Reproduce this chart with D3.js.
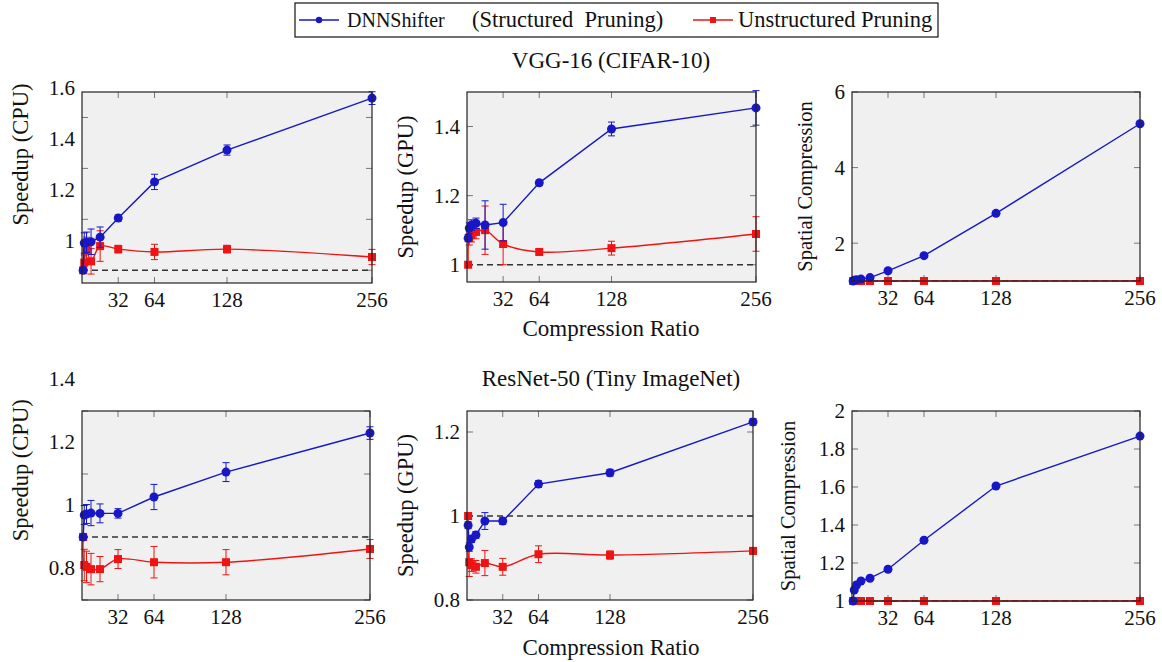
<!DOCTYPE html>
<html>
<head>
<meta charset="utf-8">
<script src="https://cdn.jsdelivr.net/npm/d3@7"></script>
<style>
  body { margin: 0; background: #fff; }
  svg text { font-family: "Liberation Serif", "Times New Roman", serif; fill: #111; }
</style>
</head>
<body>
<div id="chart"></div>
<script>
// Compression ratios (x axis)
var ratios = [1, 2, 4, 8, 16, 32, 64, 128, 256];
var xTicks = [32, 64, 128, 256];

// VGG-16 (CIFAR-10)
var vggCpuShifter = [1.0, 1.107, 1.11, 1.112, 1.13, 1.205, 1.347, 1.472, 1.676];
var vggCpuShifterErr = [0.005, 0.04, 0.04, 0.05, 0.04, 0.012, 0.03, 0.02, 0.025];
var vggCpuUnstr = [1.0, 1.03, 1.08, 1.035, 1.095, 1.083, 1.072, 1.083, 1.052];
var vggCpuUnstrErr = [0.005, 0.03, 0.05, 0.05, 0.06, 0.015, 0.03, 0.015, 0.03];

var vggGpuShifter = [1.077, 1.106, 1.115, 1.12, 1.115, 1.122, 1.237, 1.393, 1.454];
var vggGpuShifterErr = [0.01, 0.015, 0.015, 0.015, 0.07, 0.053, 0.008, 0.02, 0.05];
var vggGpuUnstr = [1.0, 1.077, 1.086, 1.095, 1.1, 1.06, 1.037, 1.048, 1.089];
var vggGpuUnstrErr = [0.005, 0.02, 0.02, 0.02, 0.07, 0.06, 0.008, 0.02, 0.05];

var vggSpaceShifter = [1.0, 1.02, 1.03, 1.05, 1.09, 1.27, 1.67, 2.79, 5.16];
var vggSpaceUnstr = [1, 1, 1, 1, 1, 1, 1, 1, 1];

// ResNet-50 (Tiny ImageNet)
var resCpuShifter = [1.0, 1.07, 1.073, 1.076, 1.075, 1.075, 1.127, 1.206, 1.33];
var resCpuShifterErr = [0.005, 0.03, 0.03, 0.04, 0.03, 0.015, 0.04, 0.03, 0.02];
var resCpuUnstr = [1.0, 0.911, 0.905, 0.898, 0.898, 0.93, 0.92, 0.92, 0.962];
var resCpuUnstrErr = [0.005, 0.05, 0.05, 0.05, 0.04, 0.03, 0.05, 0.04, 0.03];

var resGpuShifter = [0.978, 0.926, 0.945, 0.955, 0.988, 0.988, 1.076, 1.103, 1.224];
var resGpuShifterErr = [0.008, 0.01, 0.008, 0.008, 0.02, 0.008, 0.008, 0.008, 0.008];
var resGpuUnstr = [1.0, 0.89, 0.883, 0.879, 0.888, 0.879, 0.909, 0.907, 0.917];
var resGpuUnstrErr = [0.005, 0.034, 0.015, 0.015, 0.03, 0.02, 0.02, 0.01, 0.008];

var resSpaceShifter = [1.0, 1.058, 1.084, 1.105, 1.12, 1.167, 1.32, 1.605, 1.868];
var resSpaceUnstr = [1, 1, 1, 1, 1, 1, 1, 1, 1];

// Axis setups
var vggCpuTicks = [1, 1.2, 1.4, 1.6];
var vggGpuTicks = [1, 1.2, 1.4];
var vggSpaceTicks = [2, 4, 6];
var resCpuTicks = [0.8, 1, 1.2, 1.4];
var resGpuTicks = [0.8, 1, 1.2];
var resSpaceTicks = [1, 1.2, 1.4, 1.6, 1.8, 2];

var blue = "#1717c8";
var red = "#f01313";
var serif = "'Liberation Serif', 'Times New Roman', serif";
var sans = "'Liberation Sans', Arial, sans-serif";

var width = 1162, height = 662;
var svg = d3.select("#chart").append("svg")
  .attr("width", width)
  .attr("height", height);

var panels = [
  { x0: 82, y0: 92, w: 290, h: 191, yDomain: [0.95, 1.7], ticks: vggCpuTicks, labelShift: -30,
    label: "Speedup (CPU)", labelX: 20, sans: false,
    blue: vggCpuShifter, blueErr: vggCpuShifterErr, red: vggCpuUnstr, redErr: vggCpuUnstrErr },
  { x0: 467, y0: 92, w: 289, h: 190, yDomain: [0.95, 1.5], ticks: vggGpuTicks, labelShift: 0,
    label: "Speedup (GPU)", labelX: 405, sans: false,
    blue: vggGpuShifter, blueErr: vggGpuShifterErr, red: vggGpuUnstr, redErr: vggGpuUnstrErr },
  { x0: 852, y0: 92, w: 288, h: 189, yDomain: [1, 6], ticks: vggSpaceTicks, labelShift: 0,
    label: "Spatial Compression", labelX: 805, sans: true,
    blue: vggSpaceShifter, blueErr: null, red: vggSpaceUnstr, redErr: null },
  { x0: 82, y0: 411, w: 288, h: 189, yDomain: [0.8, 1.4], ticks: resCpuTicks, labelShift: -32,
    label: "Speedup (CPU)", labelX: 20, sans: false,
    blue: resCpuShifter, blueErr: resCpuShifterErr, red: resCpuUnstr, redErr: resCpuUnstrErr },
  { x0: 467, y0: 411, w: 286, h: 189, yDomain: [0.8, 1.25], ticks: resGpuTicks, labelShift: 0,
    label: "Speedup (GPU)", labelX: 405, sans: false,
    blue: resGpuShifter, blueErr: resGpuShifterErr, red: resGpuUnstr, redErr: resGpuUnstrErr },
  { x0: 852, y0: 411, w: 288, h: 190, yDomain: [1, 2], ticks: resSpaceTicks, labelShift: 0,
    label: "Spatial Compression", labelX: 788, sans: true,
    blue: resSpaceShifter, blueErr: null, red: resSpaceUnstr, redErr: null }
];

var fmt = d3.format("~g");

function drawPanel(p) {
  var x = d3.scaleLinear().domain([0, 256]).range([p.x0, p.x0 + p.w]);
  var y = d3.scaleLinear().domain(p.yDomain).range([p.y0 + p.h, p.y0]);
  var g = svg.append("g");

  // background
  g.append("rect")
    .attr("x", p.x0).attr("y", p.y0)
    .attr("width", p.w).attr("height", p.h)
    .attr("fill", "#f0f0f0");

  // tick marks (inside, both sides)
  var tickLen = 6;
  xTicks.forEach(function(t) {
    g.append("line").attr("x1", x(t)).attr("x2", x(t))
      .attr("y1", p.y0 + p.h).attr("y2", p.y0 + p.h - tickLen)
      .attr("stroke", "#777").attr("stroke-width", 1);
    g.append("line").attr("x1", x(t)).attr("x2", x(t))
      .attr("y1", p.y0).attr("y2", p.y0 + tickLen)
      .attr("stroke", "#777").attr("stroke-width", 1);
  });
  p.ticks.forEach(function(t) {
    g.append("line").attr("x1", p.x0).attr("x2", p.x0 + tickLen)
      .attr("y1", y(t)).attr("y2", y(t))
      .attr("stroke", "#777").attr("stroke-width", 1);
    g.append("line").attr("x1", p.x0 + p.w).attr("x2", p.x0 + p.w - tickLen)
      .attr("y1", y(t)).attr("y2", y(t))
      .attr("stroke", "#777").attr("stroke-width", 1);
  });

  // baseline at 1
  g.append("line")
    .attr("x1", p.x0).attr("x2", p.x0 + p.w)
    .attr("y1", y(1)).attr("y2", y(1))
    .attr("stroke", "#333").attr("stroke-width", 1.3)
    .attr("stroke-dasharray", "6,4");

  // series, red first so blue sits on top
  var series = [
    { vals: p.red, err: p.redErr, color: red, smooth: true, square: true },
    { vals: p.blue, err: p.blueErr, color: blue, smooth: false, square: false }
  ];
  series.forEach(function(s) {
    var pts = ratios.map(function(r, i) { return [r, s.vals[i], s.err ? s.err[i] : 0]; });
    var line = d3.line()
      .x(function(d) { return x(d[0]); })
      .y(function(d) { return y(d[1]); })
      .curve(s.smooth ? d3.curveCatmullRom : d3.curveLinear);
    g.append("path").datum(pts)
      .attr("d", line)
      .attr("fill", "none")
      .attr("stroke", s.color)
      .attr("stroke-width", 1.4);

    if (s.err) {
      pts.forEach(function(d) {
        if (d[2] < 0.006) return;
        var cx = x(d[0]);
        var top = y(d[1] + d[2]), bot = y(d[1] - d[2]);
        g.append("line").attr("x1", cx).attr("x2", cx).attr("y1", top).attr("y2", bot)
          .attr("stroke", s.color).attr("stroke-width", 1);
        [top, bot].forEach(function(yy) {
          g.append("line").attr("x1", cx - 3.5).attr("x2", cx + 3.5).attr("y1", yy).attr("y2", yy)
            .attr("stroke", s.color).attr("stroke-width", 1);
        });
      });
    }

    pts.forEach(function(d) {
      if (s.square) {
        g.append("rect")
          .attr("x", x(d[0]) - 4).attr("y", y(d[1]) - 4)
          .attr("width", 8).attr("height", 8)
          .attr("fill", s.color);
      } else {
        g.append("circle")
          .attr("cx", x(d[0])).attr("cy", y(d[1])).attr("r", 4.5)
          .attr("fill", s.color);
      }
    });
  });

  // frame
  g.append("rect")
    .attr("x", p.x0).attr("y", p.y0)
    .attr("width", p.w).attr("height", p.h)
    .attr("fill", "none")
    .attr("stroke", "#222").attr("stroke-width", 1.2);

  // x tick labels
  xTicks.forEach(function(t) {
    g.append("text")
      .attr("x", x(t)).attr("y", p.y0 + p.h + 24)
      .attr("text-anchor", "middle")
      .attr("font-family", serif)
      .attr("font-size", 21)
      .text(t);
  });

  // y tick labels (left column labels sit half a step high, as in the figure)
  p.ticks.forEach(function(t) {
    g.append("text")
      .attr("x", p.x0 - 7).attr("y", y(t) + p.labelShift)
      .attr("dy", "0.35em")
      .attr("text-anchor", "end")
      .attr("font-family", serif)
      .attr("font-size", 21)
      .text(fmt(t));
  });

  // y axis label
  var cy = p.y0 + p.h / 2 + p.labelShift * 1.1;
  g.append("text")
    .attr("transform", "translate(" + p.labelX + "," + cy + ") rotate(-90)")
    .attr("text-anchor", "middle")
    .attr("dy", "0.35em")
    .attr("font-family", p.sans ? sans : serif)
    .attr("font-size", p.sans ? 20.5 : 22.5)
    .text(p.label);
}

panels.forEach(drawPanel);

// Titles and shared x labels
svg.append("text").attr("x", 611).attr("y", 68).attr("text-anchor", "middle")
  .attr("font-family", serif).attr("font-size", 23).text("VGG-16 (CIFAR-10)");
svg.append("text").attr("x", 611).attr("y", 386).attr("text-anchor", "middle")
  .attr("font-family", serif).attr("font-size", 23).text("ResNet-50 (Tiny ImageNet)");
svg.append("text").attr("x", 611).attr("y", 336).attr("text-anchor", "middle")
  .attr("font-family", serif).attr("font-size", 23).text("Compression Ratio");
svg.append("text").attr("x", 611).attr("y", 655).attr("text-anchor", "middle")
  .attr("font-family", serif).attr("font-size", 23).text("Compression Ratio");

// Legend
var legend = svg.append("g");
legend.append("rect")
  .attr("x", 295).attr("y", 3).attr("width", 643).attr("height", 34)
  .attr("fill", "#fff").attr("stroke", "#111").attr("stroke-width", 1.2);

var legendItems = [
  { x: 299, color: blue, square: false },
  { x: 693, color: red, square: true }
];
legendItems.forEach(function(it) {
  legend.append("line").attr("x1", it.x).attr("x2", it.x + 40).attr("y1", 20).attr("y2", 20)
    .attr("stroke", it.color).attr("stroke-width", 1.6);
  if (it.square) {
    legend.append("rect").attr("x", it.x + 20 - 3).attr("y", 17).attr("width", 6).attr("height", 6)
      .attr("fill", it.color);
  } else {
    legend.append("circle").attr("cx", it.x + 20).attr("cy", 20).attr("r", 3.2).attr("fill", it.color);
  }
});
legend.append("text").attr("x", 347).attr("y", 27)
  .attr("font-family", sans).attr("font-size", 20).text("DNNShifter");
legend.append("text").attr("x", 472).attr("y", 27)
  .attr("font-family", serif).attr("font-size", 22.5).attr("xml:space", "preserve")
  .text("(Structured  Pruning)");
legend.append("text").attr("x", 738).attr("y", 27)
  .attr("font-family", serif).attr("font-size", 22.5).text("Unstructured Pruning");
</script>
</body>
</html>
